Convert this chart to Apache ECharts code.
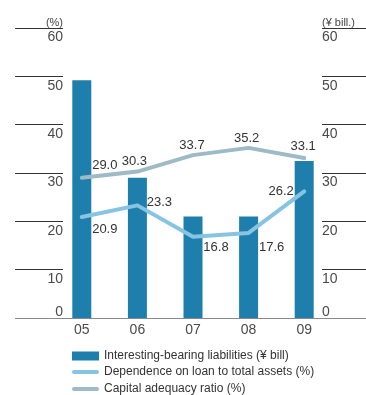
<!DOCTYPE html>
<html>
<head>
<meta charset="utf-8">
<script src="https://cdn.jsdelivr.net/npm/echarts@6/dist/echarts.min.js"></script>
<style>
  html, body { margin: 0; padding: 0; background: #fff; }
  #main { width: 366px; height: 395px; }
</style>
</head>
<body>
<div id="main"></div>
<script>
// chart data
const years = ['05', '06', '07', '08', '09']
const liabilities = [49.2, 29.0, 21.0, 21.0, 32.5]
const loanDependence = [20.9, 23.3, 16.8, 17.6, 26.2]
const capitalRatio = [29.0, 30.3, 33.7, 35.2, 33.1]
const axisTicks = [0, 10, 20, 30, 40, 50, 60]
const seriesNames = [
    'Interesting-bearing liabilities (¥ bill)',
    'Dependence on loan to total assets (%)',
    'Capital adequacy ratio (%)',
]

// label offsets (px) from each point, layout only
const loanLabelOffset = [[23, 12], [22, -3], [23, 11], [23, 14], [-23, 0]]
const capLabelOffset = [[23, -12], [-3, -10], [-1, -10], [-2, -9], [-1, -12]]

const FONT = 'Liberation Sans'
const lineIcon = 'path://M2,0 H25 A2,2 0 0 1 25,4 H2 A2,2 0 0 1 2,0 Z'

const tickLabel = {
    inside: true,
    margin: 0,
    fontFamily: FONT,
    fontSize: 14,
    color: '#4a4a4a',
    formatter: (v) => v === 0 ? '{z|0}\n{z| }' : '{n| }\n{n|' + v + '}',
    rich: {
        n: { lineHeight: 19, fontSize: 14, fontFamily: FONT, color: '#4a4a4a' },
        z: { lineHeight: 12, fontSize: 14, fontFamily: FONT, color: '#4a4a4a' },
    },
}

const sideAxis = (pos) => ({
    type: 'value',
    min: axisTicks[0],
    max: axisTicks[axisTicks.length - 1],
    interval: axisTicks[1] - axisTicks[0],
    position: pos,
    axisLine: { show: false },
    axisTick: { show: false },
    splitLine: {
        show: true,
        lineStyle: { color: ['#8a8a8a', '#333', '#333', '#333', '#333', '#333', '#333'], width: 1 },
    },
    axisLabel: tickLabel,
})

const withOffsets = (values, offsets) => values.map((v, i) => ({
    value: v,
    label: { offset: offsets[i] },
}))

const legendItem = (name, icon, top) => ({
    orient: 'vertical',
    left: 72,
    top: top,
    padding: 0,
    itemWidth: 27,
    itemHeight: 9,
    textStyle: { fontFamily: FONT, fontSize: 12, color: '#333' },
    data: [{ name: name, icon: icon }],
})

const lineLabel = {
    show: true,
    position: 'inside',
    fontFamily: FONT,
    fontSize: 13,
    color: '#333',
    formatter: (p) => p.value.toFixed(1),
}

const myChart = echarts.init(document.getElementById('main'))

const option = {
    backgroundColor: '#ffffff',
    animation: false,
    textStyle: { fontFamily: FONT },
    title: [
        { text: '(%)', right: 303, top: 17, padding: 0,
          textStyle: { fontFamily: FONT, fontSize: 11, fontWeight: 'normal', color: '#444' } },
        { text: '(¥ bill.)', left: 322, top: 17, padding: 0,
          textStyle: { fontFamily: FONT, fontSize: 11, fontWeight: 'normal', color: '#444' } },
    ],
    grid: [
        { left: 54, right: 34, top: 28, bottom: 77 },
        { left: 15, right: 303, top: 28, bottom: 77 },
        { left: 322, right: 0, top: 28, bottom: 77 },
    ],
    xAxis: [
        {
            type: 'category',
            gridIndex: 0,
            data: years,
            axisLine: { lineStyle: { color: '#8a8a8a', width: 1 } },
            axisTick: { show: false },
            axisLabel: { fontFamily: FONT, fontSize: 14, color: '#4a4a4a', margin: 5 },
        },
        { type: 'value', gridIndex: 1, show: false },
        { type: 'value', gridIndex: 2, show: false },
    ],
    yAxis: [
        { type: 'value', gridIndex: 0, min: 0, max: 60, show: false, splitLine: { show: false } },
        Object.assign({ gridIndex: 1 }, sideAxis('right')),
        Object.assign({ gridIndex: 2 }, sideAxis('left')),
    ],
    legend: [
        legendItem(seriesNames[0], 'rect', 350),
        legendItem(seriesNames[1], lineIcon, 366),
        legendItem(seriesNames[2], lineIcon, 383),
    ],
    series: [
        {
            name: seriesNames[0],
            type: 'bar',
            barWidth: 19,
            itemStyle: { color: '#1f7fac' },
            data: liabilities,
        },
        {
            name: seriesNames[1],
            type: 'line',
            color: '#86c4e2',
            symbol: 'circle',
            symbolSize: 2,
            lineStyle: { width: 4, color: '#86c4e2', cap: 'round', join: 'round' },
            itemStyle: { color: '#86c4e2' },
            label: lineLabel,
            data: withOffsets(loanDependence, loanLabelOffset),
        },
        {
            name: seriesNames[2],
            type: 'line',
            color: '#9dbac6',
            symbol: 'circle',
            symbolSize: 2,
            lineStyle: { width: 4, color: '#9dbac6', cap: 'round', join: 'round' },
            itemStyle: { color: '#9dbac6' },
            label: lineLabel,
            data: withOffsets(capitalRatio, capLabelOffset),
        },
    ],
}

myChart.setOption(option)
</script>
</body>
</html>
